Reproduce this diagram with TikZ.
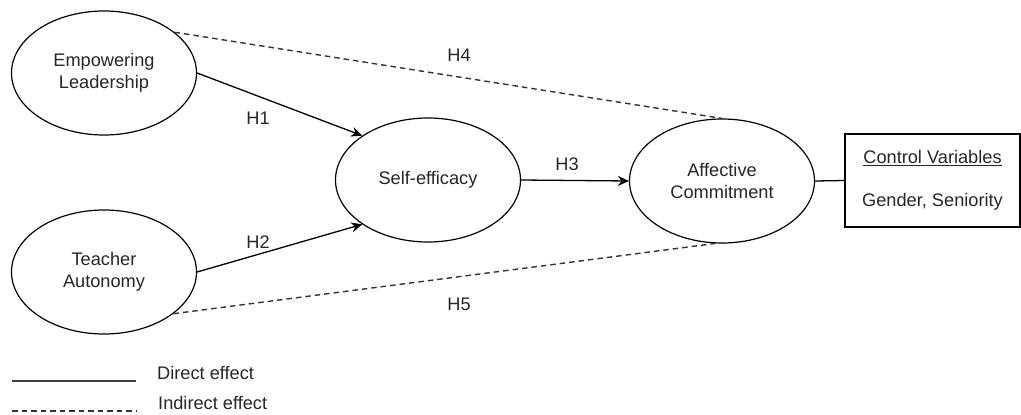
\documentclass[tikz,border=0pt]{standalone}
\usepackage{fontspec}
\setmainfont{Liberation Sans}
\usetikzlibrary{shapes.geometric,arrows.meta}
\begin{document}
\begin{tikzpicture}[x=1pt,y=-1pt,
  every node/.style={font=\fontsize{18.2}{22}\selectfont, text=black!85},
  var/.style={draw, line width=1.2pt, ellipse, minimum width=185pt, minimum height=124pt, inner sep=0pt, align=center},
  direct/.style={line width=1.3pt, -{Stealth[length=11pt,width=10pt]}},
  indirect/.style={line width=1.4pt, dash pattern=on 5.5pt off 4pt, draw=black!80},
  plainline/.style={line width=1.3pt},
  lbl/.style={inner sep=0pt}
]
\useasboundingbox (0,0) rectangle (1021,415);
\node[var] (el) at (104,73) {Empowering\\Leadership};
\node[var] (ta) at (104,272) {Teacher\\Autonomy};
\node[var] (se) at (428,180) {Self-efficacy};
\node[var] (ac) at (722,181) {Affective\\Commitment};
\node[draw, line width=1.2pt, minimum width=175pt, minimum height=93pt, align=center, inner sep=0pt] (cv) at (932.5,180.5) {\underline{Control Variables}\\[21pt]Gender, Seniority};

\draw[direct] (el.east) -- (se.146);
\draw[direct] (ta.east) -- (se.214);
\draw[direct] (se.east) -- (ac.west);
\draw[plainline] (ac.east) -- (cv.west);
\draw[indirect] (el.30.5) -- (ac.north);
\draw[indirect] (ta.329.5) -- (ac.264);

\node[lbl] (h1) at (258,118) {H1};
\node[lbl] (h2) at (258,242) {H2};
\node[lbl] (h3) at (567,164) {H3};
\node[lbl] (h4) at (459,55) {H4};
\node[lbl] (h5) at (459,304) {H5};

\coordinate (d1) at (12,381);
\coordinate (d2) at (136,381);
\coordinate (i1) at (12,411);
\coordinate (i2) at (136,411);
\draw[plainline, draw=black!75] (d1) -- (d2);
\draw[indirect] (i1) -- (i2);
\node[lbl, anchor=west] (dl) at (157,373) {Direct effect};
\node[lbl, anchor=west] (il) at (158,403) {Indirect effect};
\end{tikzpicture}
\end{document}
